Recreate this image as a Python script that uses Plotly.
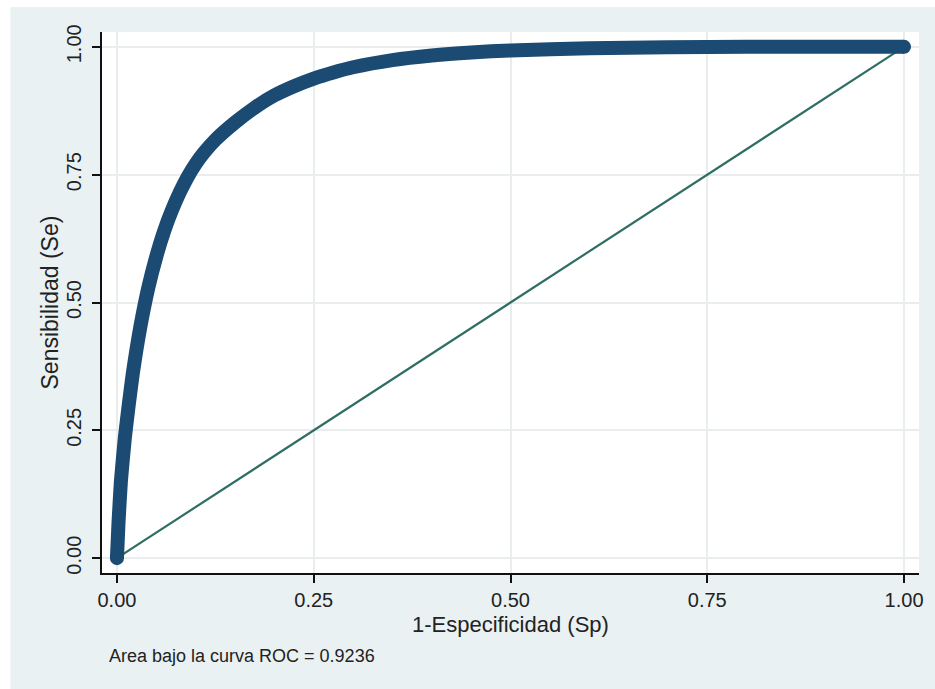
import plotly.graph_objects as go

# ---- data ----
fpr = [0, 0.002, 0.005, 0.010, 0.015, 0.020, 0.025, 0.030, 0.040, 0.050,
       0.060, 0.070, 0.080, 0.090, 0.100, 0.110, 0.125, 0.150, 0.175, 0.200,
       0.225, 0.250, 0.275, 0.300, 0.350, 0.400, 0.450, 0.500, 0.600, 0.700,
       0.800, 0.900, 1.000]
tpr = [0, 0.07, 0.15, 0.235, 0.30, 0.36, 0.41, 0.455, 0.53, 0.59,
       0.64, 0.681, 0.716, 0.746, 0.771, 0.792, 0.818, 0.852, 0.881, 0.905,
       0.923, 0.938, 0.95, 0.96, 0.974, 0.983, 0.989, 0.993, 0.997, 0.999,
       1.0, 1.0, 1.0]
diag_x = [0, 1]
diag_y = [0, 1]
tick_vals = [0, 0.25, 0.5, 0.75, 1.0]
tick_text = ["0.00", "0.25", "0.50", "0.75", "1.00"]
x_title = "1-Especificidad (Sp)"
y_title = "Sensibilidad (Se)"
note_text = "Area bajo la curva ROC = 0.9236"

# ---- layout constants (pixels) ----
W, H = 935, 689
ML, MR, MT, MB = 102, 12, 32, 116
pw = W - ML - MR
ph = H - MT - MB

def px_to_paper_x(px):
    return (px - ML) / pw

def px_to_paper_y(py):
    return (H - MB - py) / ph

FONT = "Liberation Sans, Arial, sans-serif"
NAVY = "#1B4A73"
TEAL = "#2E6E63"
BG = "#EAF1F3"
TXT = "#222222"

end_sizes = [14] + [0] * (len(fpr) - 2) + [14]

fig = go.Figure()
fig.add_trace(go.Scatter(x=diag_x, y=diag_y, mode="lines",
                         line=dict(color=TEAL, width=2.2), hoverinfo="skip",
                         showlegend=False))
fig.add_trace(go.Scatter(x=fpr, y=tpr, mode="lines+markers",
                         line=dict(color=NAVY, width=14, shape="spline",
                                   smoothing=0.5),
                         marker=dict(color=NAVY, size=end_sizes, opacity=1,
                                     line=dict(width=0)),
                         opacity=1, showlegend=False))

axis_common = dict(
    tickvals=tick_vals, ticktext=tick_text,
    showgrid=True, gridcolor="#E9EDED", gridwidth=2,
    zeroline=False, showline=True, linecolor="#111111", linewidth=1.5,
    ticks="outside", ticklen=8, tickwidth=1.5, tickcolor="#111111",
    tickfont=dict(family=FONT, size=20, color=TXT),
    mirror=False,
)

fig.update_layout(
    width=W, height=H,
    margin=dict(l=ML, r=MR, t=MT, b=MB, pad=0),
    paper_bgcolor="white", plot_bgcolor="white",
    xaxis=dict(range=[-0.019, 1.019], ticklabelstandoff=0, **axis_common),
    yaxis=dict(range=[-0.029, 1.029], tickangle=-90, ticklabelstandoff=3,
               **axis_common),
    shapes=[
        dict(type="rect", xref="paper", yref="paper", layer="below",
             x0=px_to_paper_x(10), x1=px_to_paper_x(W + 5),
             y0=px_to_paper_y(H + 5), y1=px_to_paper_y(7),
             fillcolor=BG, line=dict(width=0)),
        dict(type="rect", xref="paper", yref="paper", layer="below",
             x0=0, x1=1, y0=0, y1=1,
             fillcolor="white", line=dict(width=0)),
    ],
    annotations=[
        dict(text=x_title, xref="paper", yref="paper", x=0.5, y=0,
             xanchor="center", yanchor="middle", yshift=-(624 - (H - MB)),
             showarrow=False, font=dict(family=FONT, size=22, color=TXT)),
        dict(text=y_title, xref="paper", yref="paper", x=0, y=0.5,
             xanchor="center", yanchor="middle", xshift=-(ML - 49),
             textangle=-90, showarrow=False,
             font=dict(family=FONT, size=23, color=TXT)),
        dict(text=note_text, xref="paper", yref="paper", x=0, y=0,
             xanchor="left", yanchor="middle", xshift=5,
             yshift=-(656 - (H - MB)),
             showarrow=False, font=dict(family=FONT, size=18, color=TXT)),
    ],
)

fig.write_html(
    "out.html",
    config={"displayModeBar": False},
    post_script="document.body.style.margin='0';document.body.style.overflow='hidden';",
)
